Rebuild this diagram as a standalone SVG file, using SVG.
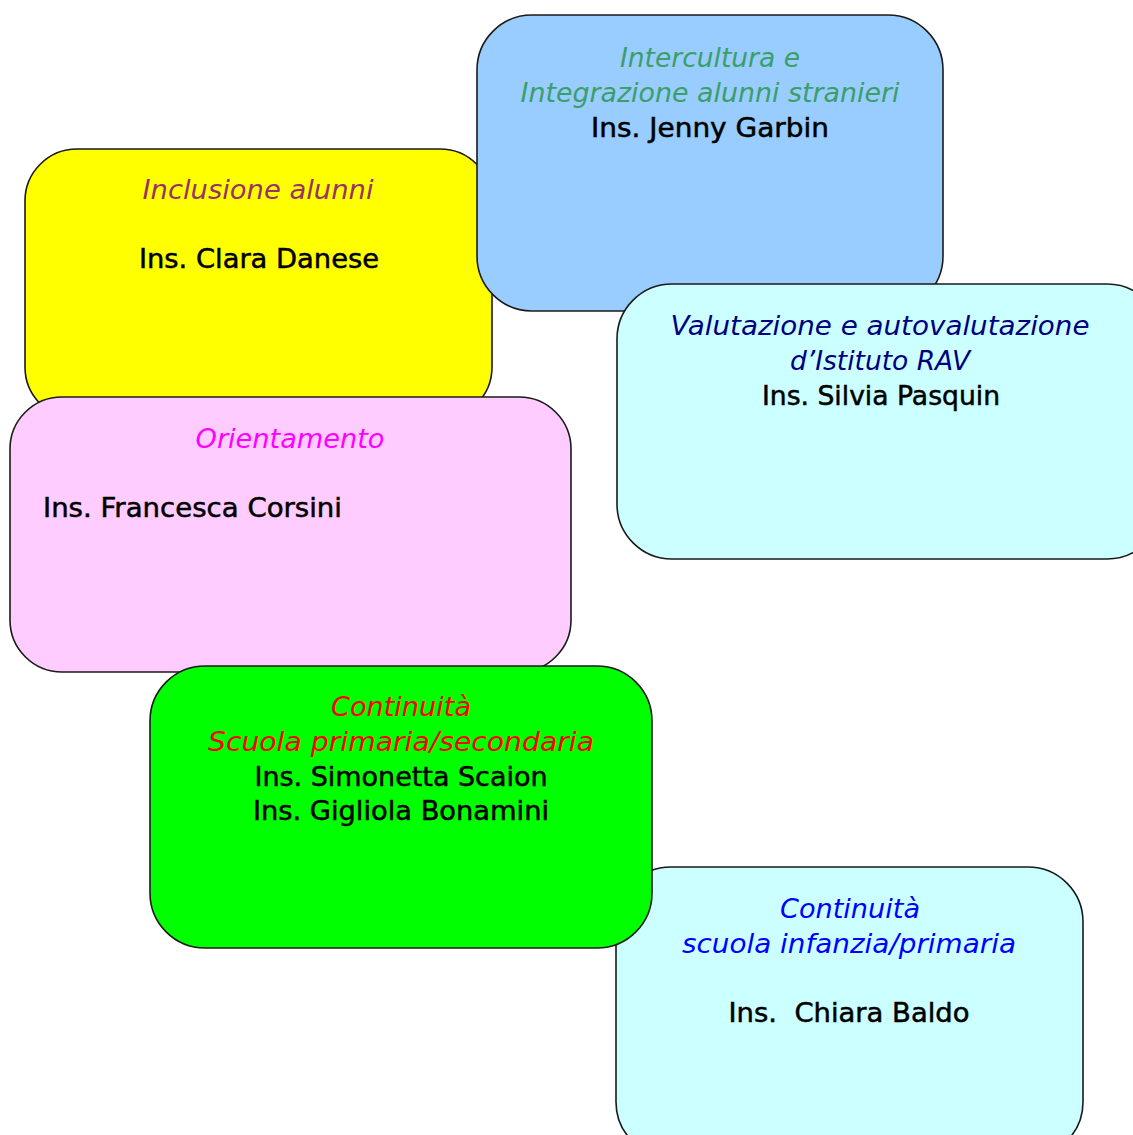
<svg xmlns="http://www.w3.org/2000/svg" width="1133" height="1135" viewBox="0 0 1133 1135">
<style>
.box{stroke:#1a1a1a;stroke-width:1.6}
text{font-family:"DejaVu Sans","Liberation Sans",sans-serif;font-size:26px;text-anchor:middle}
.t{font-style:italic}
.n{fill:#000;stroke:#000;stroke-width:0.5}
</style>
<rect width="1133" height="1135" fill="#fff"/>
<g id="inclusione">
<rect class="box" x="25" y="149" width="467" height="270" rx="52" fill="#FFFF00"/>
<text class="t" x="258" y="199" fill="#993366" textLength="231" lengthAdjust="spacingAndGlyphs">Inclusione alunni</text>
<text class="n" x="259" y="268" textLength="240" lengthAdjust="spacingAndGlyphs">Ins. Clara Danese</text>
</g>
<g id="intercultura">
<rect class="box" x="477" y="15" width="466" height="296" rx="55" fill="#99CCFF"/>
<text class="t" x="710" y="67" fill="#3A9F6A" textLength="180" lengthAdjust="spacingAndGlyphs">Intercultura e</text>
<text class="t" x="710" y="102" fill="#3A9F6A" textLength="379" lengthAdjust="spacingAndGlyphs">Integrazione alunni stranieri</text>
<text class="n" x="710" y="137" textLength="238" lengthAdjust="spacingAndGlyphs">Ins. Jenny Garbin</text>
</g>
<g id="valutazione">
<rect class="box" x="617" y="284" width="545" height="275" rx="55" fill="#CCFFFF"/>
<text class="t" x="880" y="335" fill="#000080" textLength="419" lengthAdjust="spacingAndGlyphs">Valutazione e autovalutazione</text>
<text class="t" x="880" y="370" fill="#000080" textLength="180" lengthAdjust="spacingAndGlyphs">d’Istituto RAV</text>
<text class="n" x="881" y="405" textLength="238" lengthAdjust="spacingAndGlyphs">Ins. Silvia Pasquin</text>
</g>
<g id="orientamento">
<rect class="box" x="10" y="397" width="561" height="275" rx="52" fill="#FFCCFF"/>
<text class="t" x="290" y="448" fill="#FF00FF" textLength="189" lengthAdjust="spacingAndGlyphs">Orientamento</text>
<text class="n" x="43" y="517" style="text-anchor:start" textLength="299" lengthAdjust="spacingAndGlyphs">Ins. Francesca Corsini</text>
</g>
<g id="continuita-infanzia">
<rect class="box" x="616" y="867" width="467" height="290" rx="55" fill="#CCFFFF"/>
<text class="t" x="850" y="918" fill="#0000FF" textLength="140" lengthAdjust="spacingAndGlyphs">Continuità</text>
<text class="t" x="849" y="953" fill="#0000FF" textLength="334" lengthAdjust="spacingAndGlyphs">scuola infanzia/primaria</text>
<text class="n" x="849" y="1022" xml:space="preserve" textLength="241" lengthAdjust="spacingAndGlyphs">Ins.  Chiara Baldo</text>
</g>
<g id="continuita-secondaria">
<rect class="box" x="150" y="666" width="502" height="282" rx="55" fill="#00FF00"/>
<text class="t" x="401" y="716" fill="#FF0000" textLength="140" lengthAdjust="spacingAndGlyphs">Continuità</text>
<text class="t" x="401" y="751" fill="#FF0000" textLength="386" lengthAdjust="spacingAndGlyphs">Scuola primaria/secondaria</text>
<text class="n" x="401" y="786" textLength="293" lengthAdjust="spacingAndGlyphs">Ins. Simonetta Scaion</text>
<text class="n" x="401" y="820" textLength="296" lengthAdjust="spacingAndGlyphs">Ins. Gigliola Bonamini</text>
</g>
<g id="connectors"></g>
</svg>
